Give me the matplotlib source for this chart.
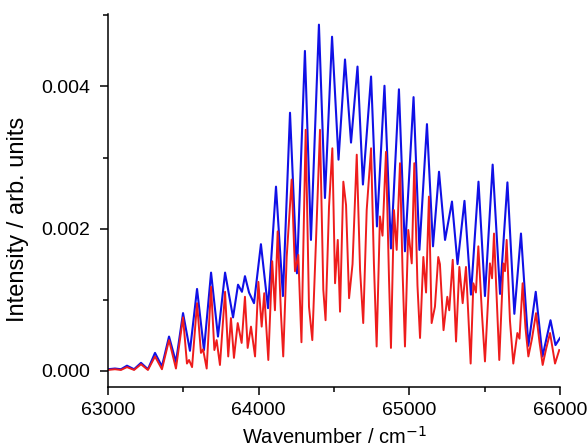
import matplotlib
matplotlib.use("Agg")
import matplotlib.pyplot as plt
from matplotlib.ticker import MultipleLocator, FormatStrFormatter

# Blue spectrum: wavenumber (cm^-1) and intensity (arb. units), read at peaks/troughs
blue_wn = [63000, 63046, 63086, 63126, 63173, 63219, 63265, 63312, 63358, 63405,
           63451, 63498, 63544, 63591, 63637, 63684, 63730, 63777, 63830, 63863,
           63889, 63909, 63936, 63969, 64015, 64062, 64115, 64161, 64208, 64254,
           64307, 64347, 64400, 64440, 64487, 64530, 64573, 64613, 64656, 64692,
           64746, 64785, 64835, 64878, 64931, 64971, 65028, 65067, 65117, 65157,
           65197, 65237, 65283, 65320, 65366, 65409, 65459, 65502, 65553, 65602,
           65651, 65697, 65741, 65790, 65839, 65884, 65937, 65970, 66000]
blue_int = [0.00002, 0.00003, 0.00002, 0.00007, 0.00002, 0.00011, 0.00002, 0.00025, 0.00006, 0.00048,
            0.00012, 0.00081, 0.00028, 0.00115, 0.00029, 0.00138, 0.00048, 0.00138, 0.00075, 0.00121,
            0.00111, 0.00133, 0.00110, 0.00095, 0.00178, 0.00088, 0.00259, 0.00105, 0.00363, 0.00137,
            0.00450, 0.00184, 0.00487, 0.00243, 0.00470, 0.00297, 0.00438, 0.00321, 0.00428, 0.00262,
            0.00414, 0.00203, 0.00401, 0.00172, 0.00396, 0.00168, 0.00385, 0.00170, 0.00347, 0.00175,
            0.00280, 0.00184, 0.00238, 0.00150, 0.00239, 0.00107, 0.00266, 0.00105, 0.00290, 0.00108,
            0.00265, 0.00080, 0.00193, 0.00035, 0.00111, 0.00020, 0.00071, 0.00036, 0.00046]

# Red spectrum
red_wn = [63000, 63046, 63086, 63126, 63173, 63219, 63265, 63312, 63358, 63405,
          63451, 63498, 63524, 63538, 63558, 63591, 63617, 63631, 63655, 63684,
          63706, 63721, 63743, 63777, 63798, 63816, 63836, 63861, 63887, 63909,
          63927, 63949, 63976, 63998, 64020, 64037, 64064, 64090, 64108, 64126,
          64148, 64163, 64186, 64219, 64241, 64263, 64284, 64312, 64334, 64356,
          64380, 64407, 64429, 64444, 64467, 64489, 64507, 64525, 64540, 64562,
          64580, 64600, 64623, 64651, 64673, 64694, 64717, 64746, 64765, 64783,
          64805, 64822, 64845, 64865, 64878, 64898, 64916, 64938, 64955, 64971,
          64993, 65016, 65033, 65054, 65071, 65093, 65111, 65130, 65148, 65170,
          65192, 65203, 65227, 65252, 65265, 65288, 65310, 65332, 65354, 65376,
          65407, 65425, 65442, 65458, 65482, 65502, 65535, 65549, 65562, 65584,
          65597, 65624, 65635, 65646, 65668, 65690, 65717, 65731, 65752, 65771,
          65790, 65814, 65841, 65864, 65885, 65907, 65934, 65967, 65995]
red_int = [0.00001, 0.00002, 0.00001, 0.00005, 0.00001, 0.00009, 0.00001, 0.00020, 0.00002, 0.00043,
           0.00003, 0.00075, 0.00010, 0.00015, 0.00005, 0.00095, 0.00025, 0.00030, 0.00003, 0.00118,
           0.00029, 0.00043, 0.00008, 0.00111, 0.00020, 0.00074, 0.00018, 0.00067, 0.00039, 0.00104,
           0.00032, 0.00062, 0.00020, 0.00125, 0.00062, 0.00109, 0.00015, 0.00154, 0.00085, 0.00196,
           0.00080, 0.00020, 0.00160, 0.00269, 0.00140, 0.00163, 0.00040, 0.00339, 0.00090, 0.00043,
           0.00180, 0.00339, 0.00114, 0.00071, 0.00231, 0.00313, 0.00123, 0.00184, 0.00083, 0.00266,
           0.00233, 0.00102, 0.00150, 0.00304, 0.00142, 0.00067, 0.00226, 0.00313, 0.00150, 0.00034,
           0.00217, 0.00190, 0.00308, 0.00130, 0.00032, 0.00226, 0.00170, 0.00292, 0.00140, 0.00034,
           0.00198, 0.00151, 0.00292, 0.00120, 0.00046, 0.00160, 0.00110, 0.00245, 0.00067, 0.00090,
           0.00160, 0.00150, 0.00057, 0.00104, 0.00085, 0.00156, 0.00041, 0.00146, 0.00095, 0.00146,
           0.00010, 0.00123, 0.00110, 0.00175, 0.00080, 0.00013, 0.00151, 0.00130, 0.00193, 0.00080,
           0.00015, 0.00151, 0.00140, 0.00184, 0.00070, 0.00010, 0.00053, 0.00045, 0.00123, 0.00060,
           0.00020, 0.00045, 0.00081, 0.00040, 0.00008, 0.00030, 0.00053, 0.00010, 0.00029]

x_ticks = [63000, 64000, 65000, 66000]
y_ticks = [0.000, 0.002, 0.004]

plt.rcParams['font.family'] = ['Liberation Sans', 'DejaVu Sans']

fig = plt.figure(figsize=(5.87, 4.48), dpi=100)
ax = fig.add_axes([108/587, 1-387/448, (560-108)/587, (387-14)/448])

ax.plot(blue_wn, blue_int, color='#1010e6', lw=1.5, solid_joinstyle='round')
ax.plot(red_wn, red_int, color='#ee1c1c', lw=1.4, solid_joinstyle='round')

ax.set_xlim(63000, 66000)
ax.set_ylim(-0.00023, 0.00502)
ax.set_xticks(x_ticks)
ax.set_yticks(y_ticks)
ax.xaxis.set_minor_locator(MultipleLocator(500))
ax.yaxis.set_minor_locator(MultipleLocator(0.001))
ax.yaxis.set_major_formatter(FormatStrFormatter('%.3f'))

for s in ['top', 'right']:
    ax.spines[s].set_visible(False)
for s in ['left', 'bottom']:
    ax.spines[s].set_linewidth(1.1)

ax.tick_params(axis='both', which='major', direction='out', length=6, width=1.1,
               labelsize=14)
ax.tick_params(axis='x', which='major', pad=5)
ax.tick_params(axis='y', which='major', pad=7)
ax.tick_params(axis='both', which='minor', direction='out', length=3.5, width=1.1)

ax.set_xlabel('Wavenumber / cm$^{-1}$', fontsize=14.5)
ax.set_ylabel('Intensity / arb. units', fontsize=17)
ax.xaxis.set_label_coords(0.5, -0.103)
ax.yaxis.set_label_coords(-0.175, 0.45)

fig.savefig('out.png', dpi=100)
